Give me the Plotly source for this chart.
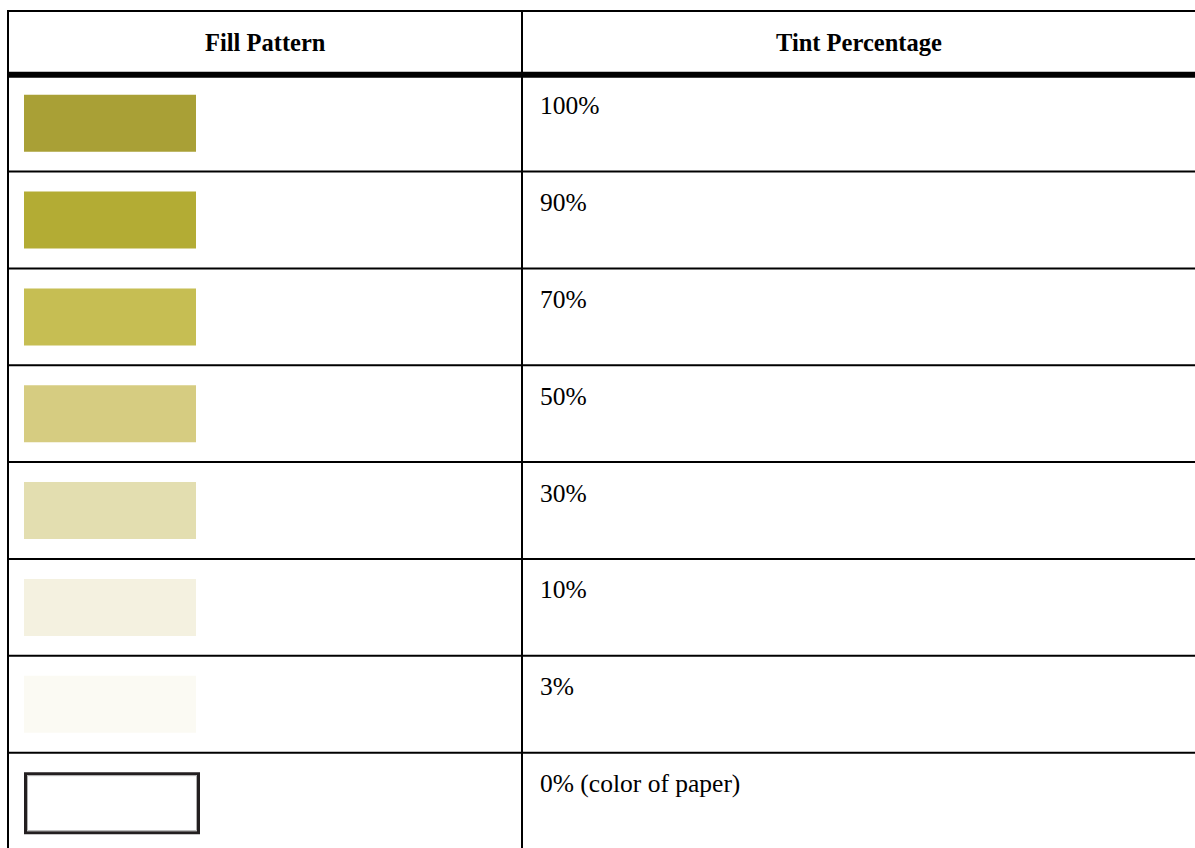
import plotly.graph_objects as go

# table content
headers = ["Fill Pattern", "Tint Percentage"]
tint_labels = ["100%", "90%", "70%", "50%", "30%", "10%", "3%", "0% (color of paper)"]
swatch_colors = ["#A9A036", "#B3AC34", "#C6BE53", "#D6CC81", "#E3DEB0", "#F4F1E0", "#FBFAF3", "#FFFFFF"]

W, H = 1195, 848
LEFT, TOP, DIVIDER = 8, 11, 522
HEADER_BOTTOM = 74.7
ROW_H = 96.85
SERIF = "Liberation Serif, Times New Roman, serif"

fig = go.Figure()
shapes = []
annotations = []

# outer frame: top + left border, column divider
shapes.append(dict(type="line", x0=LEFT, x1=W, y0=TOP, y1=TOP, line=dict(color="black", width=2)))
shapes.append(dict(type="line", x0=LEFT, x1=LEFT, y0=TOP - 1, y1=H, line=dict(color="black", width=2)))
shapes.append(dict(type="line", x0=DIVIDER, x1=DIVIDER, y0=TOP, y1=H, line=dict(color="black", width=2)))
# thick rule under the header
shapes.append(dict(type="line", x0=LEFT - 1, x1=W, y0=HEADER_BOTTOM, y1=HEADER_BOTTOM,
                   line=dict(color="black", width=6)))

# header text
for i, h in enumerate(headers):
    cx = (LEFT + DIVIDER) / 2 if i == 0 else (DIVIDER + W) / 2
    annotations.append(dict(x=cx, y=(TOP + HEADER_BOTTOM) / 2 - 0.5, text=f"<b>{h}</b>", showarrow=False,
                            xanchor="center", yanchor="middle",
                            font=dict(family=SERIF, size=24.5, color="black")))

for i, (label, color) in enumerate(zip(tint_labels, swatch_colors)):
    top = HEADER_BOTTOM + ROW_H * i
    if i > 0:
        shapes.append(dict(type="line", x0=LEFT, x1=W, y0=top, y1=top, line=dict(color="black", width=2)))
    if i < len(tint_labels) - 1:
        shapes.append(dict(type="rect", x0=24, x1=196, y0=top + 20, y1=top + 77,
                           fillcolor=color, line=dict(width=0)))
    else:
        # paper colour: white box with a bevelled dark frame
        shapes.append(dict(type="rect", x0=25.5, x1=198.5, y0=top + 21, y1=top + 80,
                           fillcolor=color, line=dict(color="#231F20", width=3)))
        shapes.append(dict(type="rect", x0=27.5, x1=196.5, y0=top + 23, y1=top + 78,
                           fillcolor="rgba(0,0,0,0)", line=dict(color="#B0B0B0", width=1)))
    annotations.append(dict(x=538, y=top + 31, text=label, showarrow=False,
                            xanchor="left", yanchor="middle",
                            font=dict(family=SERIF, size=25.5, color="black")))

fig.update_layout(
    width=W, height=H,
    margin=dict(l=0, r=0, t=0, b=0),
    paper_bgcolor="white", plot_bgcolor="white",
    xaxis=dict(range=[0, W], visible=False, fixedrange=True),
    yaxis=dict(range=[H, 0], visible=False, fixedrange=True),
    shapes=shapes, annotations=annotations,
    showlegend=False,
)

# page body has a default 8px margin; drop it so the figure sits at the window origin
fig.write_html("out.html", config={"displayModeBar": False},
               post_script="document.body.style.margin='0';document.body.style.overflow='hidden';")
